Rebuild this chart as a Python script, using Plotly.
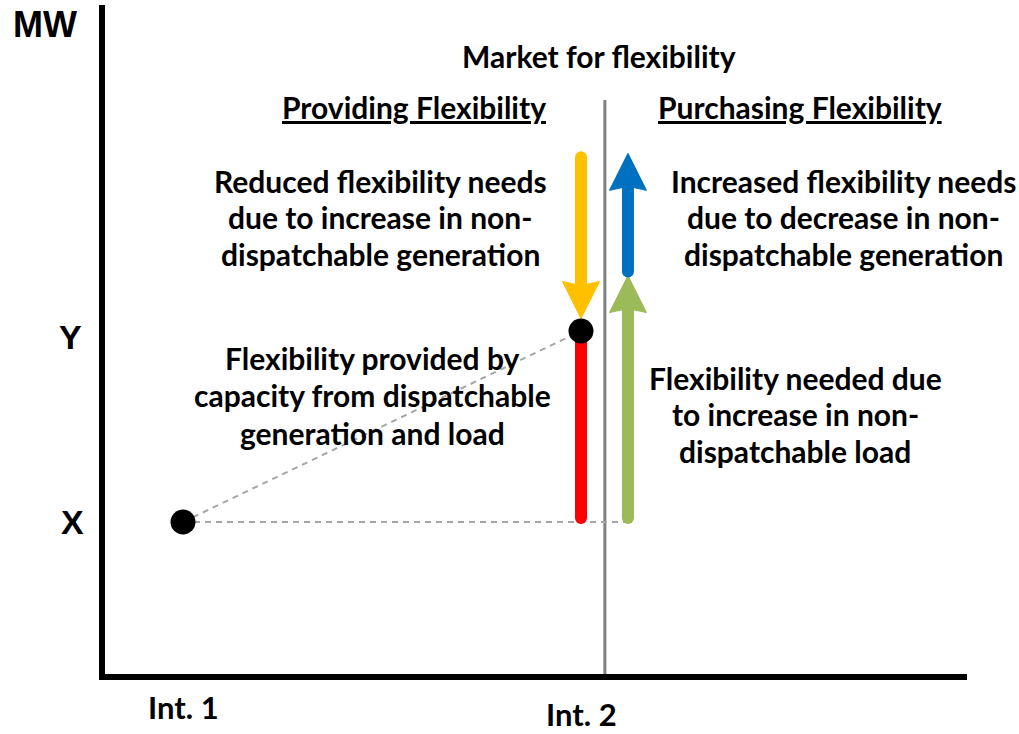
import plotly.graph_objects as go

# ---------------- data (conceptual units) ----------------
intervals = ["Int. 1", "Int. 2"]
interval_pos = [1.0, 2.0]
mw_labels = ["X", "Y"]
mw_levels = [1.0, 2.0]

purchase_offset = 0.118      # purchasing arrows sit right of Int. 2
divider_offset = 0.06        # market divider between providing / purchasing

reduced_needs_top = 2.91     # yellow arrow start (down to Y)
load_needs_top = 2.29        # green arrow tip (from X up)
decrease_gen_top = 2.93      # blue arrow tip (from green tip up)

# ---------------- figure geometry ----------------
W, H = 1019, 734
PX_X = 398.0   # px per interval unit
PX_Y = 191.0   # px per MW unit
x0px, y0px = 183.0, 522.0   # pixel of (Int.1, X)
xr = [1 + (0 - x0px) / PX_X, 1 + (W - x0px) / PX_X]
yr = [1 - (H - y0px) / PX_Y, 1 + (y0px - 0) / PX_Y]

def px(v):  # pixel length -> x units
    return v / PX_X

def py(v):  # pixel length -> y units
    return v / PX_Y

def px_paper(x, y):
    return x / W, 1 - y / H

fig = go.Figure()

GRAY = "#A6A6A6"
xi1, xi2 = interval_pos
yX, yY = mw_levels
xp = xi2 + purchase_offset

# dashed guide lines
fig.add_trace(go.Scatter(x=[xi1, xi2], y=[yX, yY], mode="lines",
                         line=dict(color=GRAY, width=2, dash="6px,5px"), hoverinfo="skip"))
fig.add_trace(go.Scatter(x=[xi1, xp], y=[yX, yX], mode="lines",
                         line=dict(color=GRAY, width=2, dash="6px,5px"), hoverinfo="skip"))

def shaft(x, ya, yb, color):
    fig.add_trace(go.Scatter(x=[x, x], y=[ya, yb], mode="lines",
                             line=dict(color=color, width=12), hoverinfo="skip"))

def cap(x, y, color):
    fig.add_trace(go.Scatter(x=[x], y=[y], mode="markers",
                             marker=dict(color=color, size=12, line=dict(width=0)), hoverinfo="skip"))

def head(x, tip, direction, color, L=37, hw=18.5, notch=4):
    # direction +1 = up, -1 = down
    base = tip - direction * py(L)
    nb = base + direction * py(notch)
    xs = [x, x + px(hw), x, x - px(hw), x]
    ys = [tip, base, nb, base, tip]
    fig.add_trace(go.Scatter(x=xs, y=ys, mode="lines", fill="toself", fillcolor=color,
                             line=dict(color=color, width=1), hoverinfo="skip"))

# red: flexibility provided (X -> Y at Int.2)
shaft(xi2, yX + py(4), yY, "#FF0000")
cap(xi2, yX + py(4), "#FF0000")

# yellow: reduced needs (down to Y)
dot_r = py(12.5)
y_tip = yY + dot_r
shaft(xi2, reduced_needs_top, y_tip + py(30), "#FFC000")
cap(xi2, reduced_needs_top, "#FFC000")
head(xi2, y_tip, -1, "#FFC000")

# green: needed due to load (X up)
shaft(xp, yX + py(4), load_needs_top - py(30), "#9BBB59")
cap(xp, yX + py(4), "#9BBB59")
head(xp, load_needs_top, 1, "#9BBB59")

# blue: increased needs (up)
blue_start = load_needs_top + py(4)
shaft(xp, blue_start, decrease_gen_top - py(30), "#0070C0")
cap(xp, blue_start, "#0070C0")
head(xp, decrease_gen_top, 1, "#0070C0")

# points
fig.add_trace(go.Scatter(x=[xi1, xi2], y=[yX, yY], mode="markers",
                         marker=dict(color="black", size=25, line=dict(width=0)), hoverinfo="skip"))

# axes lines and divider (paper coords)
shapes = []
ax, ay = px_paper(102, 5)
bx, by = px_paper(102, 680)
shapes.append(dict(type="line", xref="paper", yref="paper", x0=ax, y0=ay, x1=bx, y1=by,
                   line=dict(color="black", width=6)))
cx, cy = px_paper(99, 677)
dx, dy = px_paper(967, 677)
shapes.append(dict(type="line", xref="paper", yref="paper", x0=cx, y0=cy, x1=dx, y1=dy,
                   line=dict(color="black", width=6)))
_, ty = px_paper(0, 100)
_, bty = px_paper(0, 674)
shapes.append(dict(type="line", xref="x", yref="paper", x0=xi2 + divider_offset, x1=xi2 + divider_offset,
                   y0=bty, y1=ty, line=dict(color="#808080", width=3), layer="below"))

FONT = "Lato, Calibri, Carlito, sans-serif"
ann = []

def text(t, x, y, size=30, family=FONT):
    xx, yy = px_paper(x, y)
    ann.append(dict(text=t, x=xx, y=yy, xref="paper", yref="paper", showarrow=False,
                    xanchor="center", yanchor="middle",
                    font=dict(family=family, size=size, color="black")))

ARIAL = "Liberation Sans, Arial, sans-serif"
text("<b>MW</b>", 45, 24, 36, ARIAL)
text(f"<b>{mw_labels[1]}</b>", 70, 337, 34, ARIAL)
text(f"<b>{mw_labels[0]}</b>", 72, 522, 34, ARIAL)
text(f"<b>{intervals[0]}</b>", 183, 707, 31)
text(f"<b>{intervals[1]}</b>", 581, 714, 31)
text("<b>Market for flexibility</b>", 599, 56)
text("<b><u>Providing Flexibility</u></b>", 414, 107)
text("<b><u>Purchasing Flexibility</u></b>", 800, 107)

blocks = [
    (["Reduced flexibility needs", "due to increase in non-", "dispatchable generation"], 380, [181, 217, 254]),
    (["Increased flexibility needs", "due to decrease in non-", "dispatchable generation"], 843, [181, 217, 254]),
    (["Flexibility provided by", "capacity from dispatchable", "generation and load"], 372, [358, 395, 433]),
    (["Flexibility needed due", "to increase in non-", "dispatchable load"], 795, [378, 414, 451]),
]
for lines, x, ys in blocks:
    for t, y in zip(lines, ys):
        text(f"<b>{t}</b>", x, y)

fig.update_layout(
    width=W, height=H, margin=dict(l=0, r=0, t=0, b=0),
    paper_bgcolor="white", plot_bgcolor="white", showlegend=False,
    xaxis=dict(range=xr, visible=False, fixedrange=True),
    yaxis=dict(range=yr, visible=False, fixedrange=True),
    shapes=shapes, annotations=ann,
)

fig.write_html("out.html", config={"displayModeBar": False},
               post_script="document.body.style.margin='0px';")
